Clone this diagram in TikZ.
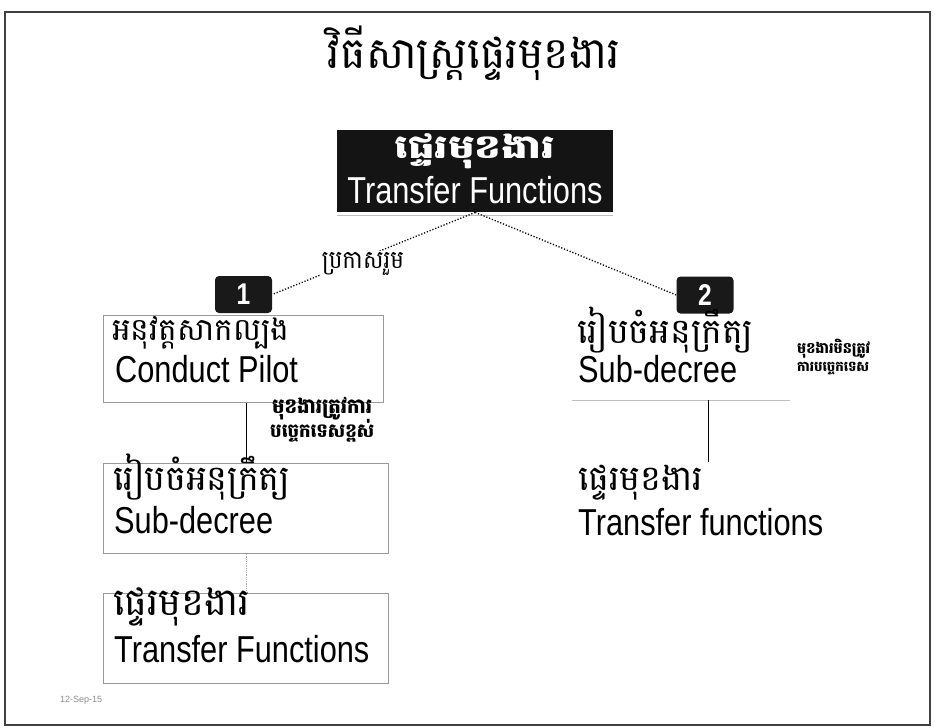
\documentclass[tikz,border=0pt]{standalone}
\usepackage{fontspec}
\usepackage{graphicx}
\setmainfont{Liberation Sans}
\newfontfamily\en[FakeStretch=0.82]{Liberation Sans}
\newfontfamily\kh[Script=Khmer]{Battambang}
\newcommand\khfit[3]{\scalebox{1}[#3]{\resizebox{#1pt}{!}{\kh #2}}}
\tikzset{
  frame/.style={draw=black!75, line width=1.8pt},
  blackbox/.style={fill=black!92, draw=none, inner sep=0pt},
  badge/.style={fill=black!90, rounded corners=4pt, minimum width=57pt, minimum height=37pt, inner sep=0pt,
    text=white, font=\en\bfseries\fontsize{30}{30}\selectfont},
  graybox/.style={draw=black!40, line width=0.8pt, inner sep=0pt},
  txt/.style={inner sep=0pt, anchor=base west},
  ctxt/.style={inner sep=0pt, anchor=base},
  entext/.style={font=\en\fontsize{37.5}{37.5}\selectfont},
  dotline/.style={dash pattern=on 1.2pt off 1.8pt, line width=1.3pt},
  link/.style={line width=0.9pt},
  faintlink/.style={draw=black!35, densely dotted, line width=0.8pt},
  faint/.style={draw=black!25, line width=0.8pt},
}
\begin{document}
\begin{tikzpicture}[x=1pt,y=-1pt]
\useasboundingbox (0,0) rectangle (935,728);
\fill[white] (0,0) rectangle (935,728);
\draw[frame] (5,12) rectangle (930,725);

% title
\node[ctxt] (title) at (474,68) {\khfit{292}{វិធីសាស្ត្រផ្ទេរមុខងារ}{1.02}};

% top black box
\node[blackbox, minimum width=276pt, minimum height=82pt, anchor=north west] (top) at (337,130) {};
\node[ctxt, text=white] (topkh) at (475,158) {\scalebox{1}[0.78]{\resizebox{160pt}{!}{\kh\bfseries ផ្ទេរមុខងារ}}};
\node[ctxt, text=white, entext] (topen) at (475,203) {Transfer Functions};
\draw[faint] ([yshift=-3pt]top.south west) -- ([yshift=-3pt]top.south east);

% badges
\node[badge] (n1) at (243.5,294.5) {1};
\node[badge] (n2) at (705,295) {2};

% connectors from top
\draw[dotline] (top.south) -- (n1.east);
\draw[dotline] (top.south) -- (n2.west);
\node[fill=white, inner sep=1pt, anchor=base] (lbl0) at (363,268) {\khfit{82}{ប្រកាសរួម}{1.1}};

% left column
\node[graybox, minimum width=280pt, minimum height=87pt, anchor=north west] (b1) at (103,315) {};
\node[txt] (b1kh) at (112,340) {\khfit{177}{អនុវត្តសាកល្បង}{1.0}};
\node[txt, entext] (b1en) at (115,382) {Conduct Pilot};

\node[graybox, minimum width=285pt, minimum height=90pt, anchor=north west] (b2) at (103,463) {};
\node[txt] (b2kh) at (113,490) {\khfit{177}{រៀបចំអនុក្រឹត្យ}{1.0}};
\node[txt, entext] (b2en) at (114,533) {Sub-decree};

\node[graybox, minimum width=285pt, minimum height=90pt, anchor=north west] (b3) at (103,593) {};
\node[txt] (b3kh) at (113,615) {\khfit{137}{ផ្ទេរមុខងារ}{1.0}};
\node[txt, entext] (b3en) at (114,662) {Transfer Functions};

\coordinate (v1) at (246.5,0);
\draw[link] (v1 |- b1.south) -- (v1 |- b2.north);
\draw[faintlink] (v1 |- b2.south) -- (v1 |- b3.north);

\node[txt] (l1a) at (272,413) {\khfit{100}{\bfseries មុខងារត្រូវការ}{1.05}};
\node[txt] (l1b) at (270,437) {\khfit{104}{\bfseries បច្ចេកទេសខ្ពស់}{1.05}};

% right column
\node[minimum width=218pt, minimum height=85pt, inner sep=0pt, anchor=north west] (r1) at (572,315) {};
\node[txt] (r1kh) at (577,343) {\khfit{176}{រៀបចំអនុក្រឹត្យ}{1.0}};
\node[txt, entext] (r1en) at (578,382) {Sub-decree};
\draw[faint] (r1.south west) -- (r1.south east);

\node[txt] (l2a) at (797,353) {\khfit{73}{\bfseries មុខងារមិនត្រូវ}{1.05}};
\node[txt] (l2b) at (797,371) {\khfit{72}{\bfseries ការបច្ចេកទេស}{1.05}};

\node[minimum width=250pt, minimum height=80pt, inner sep=0pt, anchor=north west] (r2) at (575,462) {};
\node[txt] (r2kh) at (578,490) {\khfit{125}{ផ្ទេរមុខងារ}{1.0}};
\node[txt, entext] (r2en) at (578,535) {Transfer functions};

\coordinate (v2) at (708,0);
\draw[link] (v2 |- r1.south) -- (v2 |- r2.north);

% footer
\node[txt, text=black!45, font=\fontsize{9}{9}\selectfont] (foot) at (60,702) {12-Sep-15};
\end{tikzpicture}
\end{document}
